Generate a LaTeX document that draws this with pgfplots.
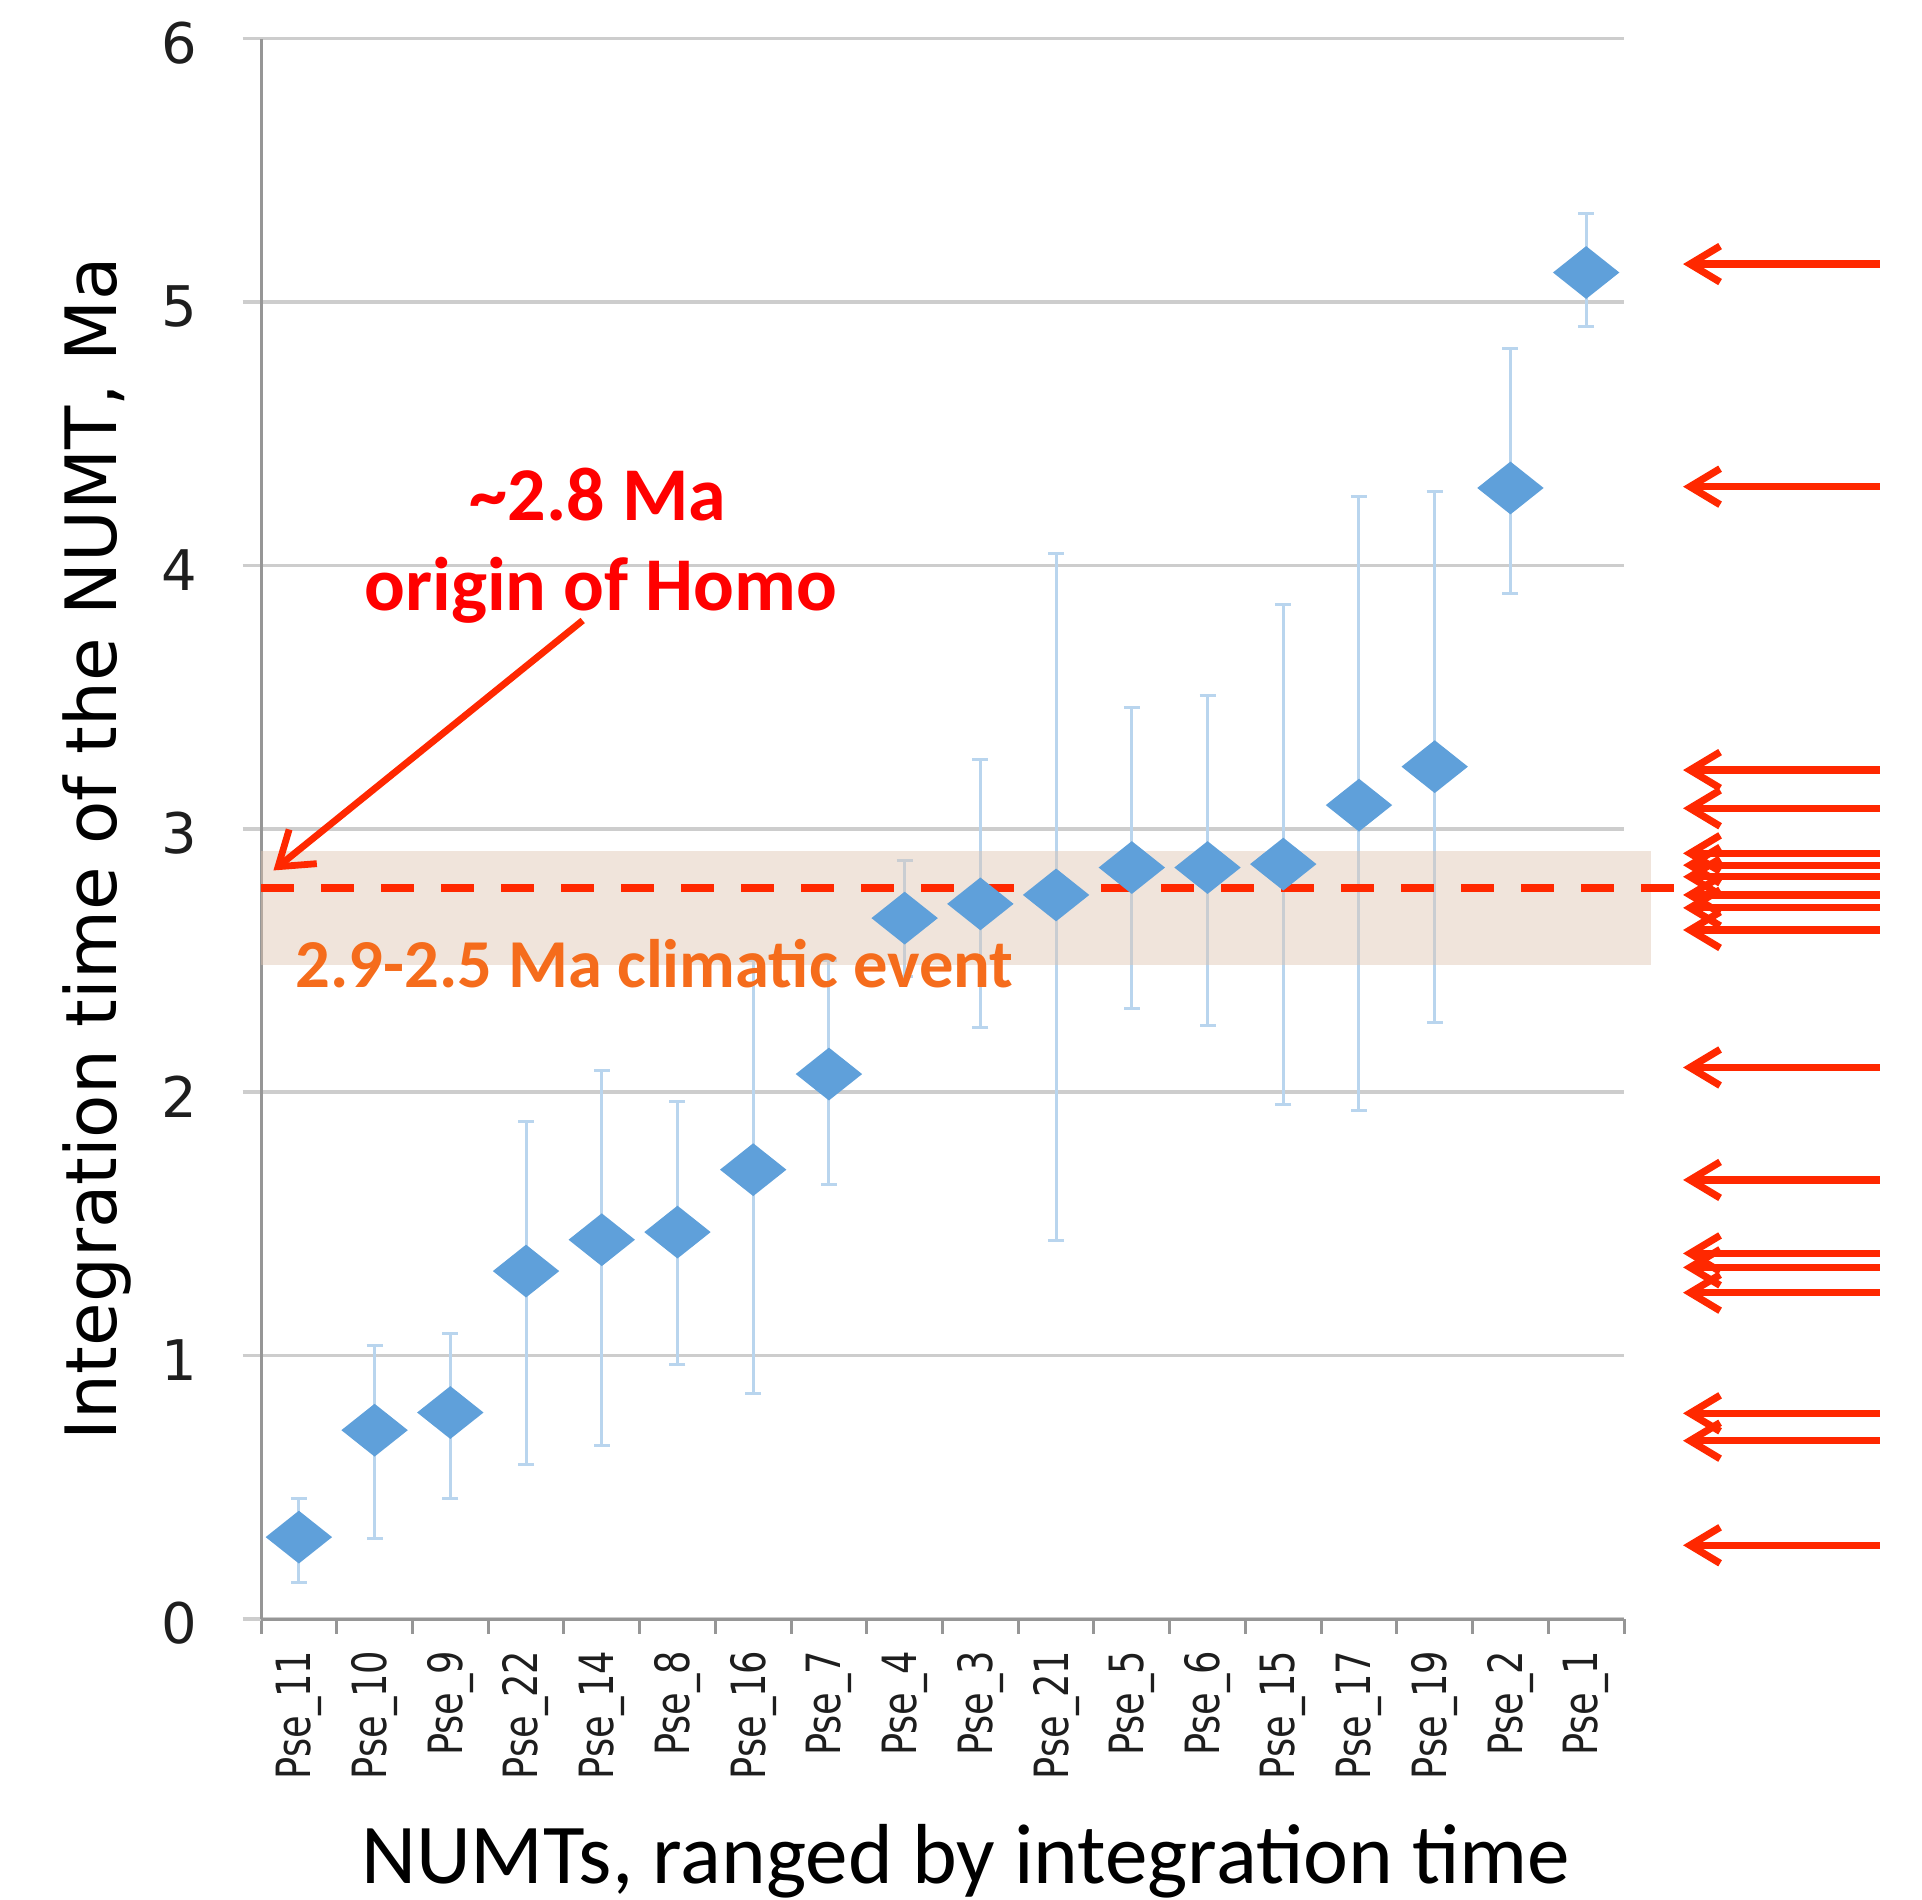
\documentclass[border=0pt]{standalone}
\usepackage{fontspec}
\setmainfont{DejaVu Sans}
\newfontfamily\carlito{Carlito}
\newfontfamily\tickfont[FakeStretch=0.78]{DejaVu Sans}
\usepackage{pgfplots}
\pgfplotsset{compat=1.18}
\usepackage{pgfplotstable}
\usetikzlibrary{arrows.meta}

\definecolor{ptblue}{RGB}{95,160,218}
\definecolor{errblue}{RGB}{185,213,238}
\definecolor{bandc}{RGB}{222,196,176}
\definecolor{annred}{RGB}{255,0,0}
\definecolor{arrred}{RGB}{255,40,0}
\definecolor{evorange}{RGB}{245,108,28}
\definecolor{gridgray}{RGB}{205,205,205}
\definecolor{axgray}{RGB}{150,150,150}
\definecolor{txtgray}{RGB}{30,30,30}

\pgfdeclareplotmark{wdiamond}{%
  \pgfpathmoveto{\pgfqpoint{0pt}{6.6pt}}%
  \pgfpathlineto{\pgfqpoint{8.3pt}{0pt}}%
  \pgfpathlineto{\pgfqpoint{0pt}{-6.6pt}}%
  \pgfpathlineto{\pgfqpoint{-8.3pt}{0pt}}%
  \pgfpathclose
  \pgfusepathqfill
}

% x = category index, y = integration time (Ma), ep/em = upper/lower error
\pgfplotstableread{
x  y     ep    em
0  0.311 0.145 0.174
1  0.717 0.323 0.410
2  0.784 0.299 0.325
3  1.321 0.566 0.735
4  1.440 0.644 0.783
5  1.469 0.494 0.504
6  1.706 0.794 0.848
7  2.069 0.431 0.421
8  2.661 0.218 0.221
9  2.715 0.550 0.468
10 2.749 1.298 1.312
11 2.853 0.606 0.537
12 2.853 0.655 0.600
13 2.866 0.985 0.913
14 3.090 1.173 1.158
15 3.236 1.046 0.971
16 4.294 0.528 0.399
17 5.112 0.223 0.206
}\numts

% heights of the red arrows on the right
\pgfplotstableread{
ay
5.144
4.299
3.223
3.078
2.907
2.862
2.818
2.749
2.700
2.616
2.094
1.667
1.388
1.335
1.239
0.781
0.677
0.280
}\arrowtab

\begin{document}
\begin{tikzpicture}
\path[use as bounding box] (-65.25pt,-70pt) rectangle (415.25pt,404.75pt);
\begin{axis}[
  at={(0pt,0pt)}, anchor=south west,
  scale only axis, width=340.75pt, height=395.1pt,
  xmin=-0.5, xmax=17.5, ymin=0, ymax=6,
  clip=false,
  axis x line*=bottom, axis y line*=left,
  axis line style={draw=axgray, line width=0.75pt},
  ytick={0,1,2,3,4,5,6},
  ymajorgrids,
  grid style={draw=gridgray, line width=0.9pt},
  xtick={0,1,...,17},
  xticklabels={Pse\_11,Pse\_10,Pse\_9,Pse\_22,Pse\_14,Pse\_8,Pse\_16,Pse\_7,Pse\_4,Pse\_3,Pse\_21,Pse\_5,Pse\_6,Pse\_15,Pse\_17,Pse\_19,Pse\_2,Pse\_1},
  minor xtick={-0.5,0.5,...,17.5},
  tick align=outside,
  major tick length=4.6pt,
  minor tick length=3.7pt,
  major x tick style={draw=none},
  minor x tick style={draw=axgray, line width=0.75pt},
  major y tick style={draw=gridgray, line width=0.9pt},
  /pgf/number format/assume math mode=true,
  yticklabel style={font=\fontsize{14}{16}\selectfont, text=txtgray, anchor=east, inner xsep=11.2pt, yshift=-1.1pt},
  xticklabel style={font=\tickfont\fontsize{11.8}{13}\selectfont, text=txtgray, rotate=90, anchor=east, inner xsep=3.1pt, inner ysep=0pt},
  ylabel={Integration time of the NUMT, Ma},
  ylabel style={at={(axis description cs:-0.1200,0.4876)}, anchor=center, font=\fontsize{17.7}{21}\selectfont},
  xlabel={NUMTs, ranged by integration time},
  xlabel style={at={(axis description cs:0.517,-0.153)}, anchor=center, font=\carlito\fontsize{21.3}{25}\selectfont},
]
\addplot[only marks, mark=wdiamond, color=ptblue,
  error bars/.cd, y dir=both, y explicit,
  error bar style={draw=errblue, line width=0.75pt},
  error mark options={draw=errblue, line width=0.75pt, mark size=2pt, rotate=90}]
  table[x=x, y=y, y error plus=ep, y error minus=em]{\numts};
\fill[bandc, fill opacity=0.45] (axis cs:-0.5,2.483) rectangle (axis cs:17.85,2.914);
\addplot[arrred, line width=2pt, dash pattern=on 8.3pt off 6.7pt] coordinates {(-0.5,2.775) (18.28,2.775)};
\addplot[arrred, line width=1.8pt, -{Straight Barb[length=7.5pt,width=9pt]}, quiver={u=-2.60, v=0}] table[x expr=20.88, y=ay]{\arrowtab};
\draw[arrred, line width=1.7pt, -{Straight Barb[length=8pt,width=11pt]}] (axis cs:3.748,3.791) -- (axis cs:-0.336,2.842);
\node[anchor=base, text=annred, font=\carlito\bfseries\fontsize{19}{23}\selectfont] at (axis cs:3.95,4.172) {\textasciitilde 2.8 Ma};
\node[anchor=base, text=annred, font=\carlito\bfseries\fontsize{19}{23}\selectfont] at (axis cs:3.99,3.828) {origin of Homo};
\node[anchor=base, text=evorange, font=\carlito\bfseries\fontsize{17.15}{20}\selectfont] at (axis cs:4.70,2.399) {2.9-2.5 Ma climatic event};
\end{axis}
\end{tikzpicture}
\end{document}
